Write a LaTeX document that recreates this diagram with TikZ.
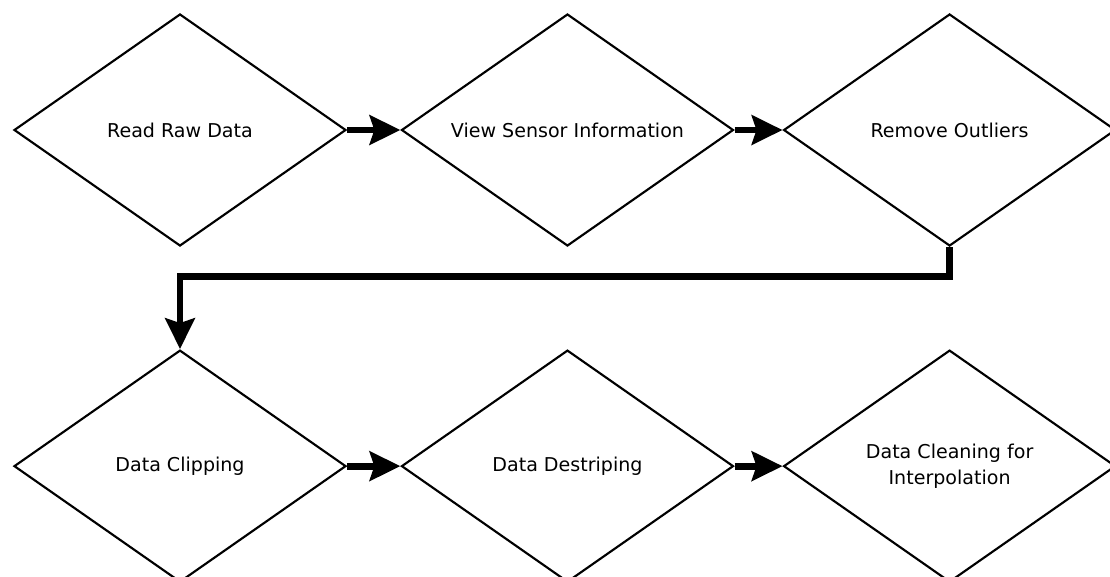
\documentclass[tikz,border=0pt]{standalone}
\usepackage{fontspec}
\setmainfont{DejaVu Sans}
\usepackage{tikz}
\usetikzlibrary{shapes.geometric,arrows.meta,positioning}

\begin{document}
\begin{tikzpicture}[
  every node/.style={font=\fontsize{14.3}{19.5}\selectfont},
  stage/.style={diamond,aspect=1.43,draw,line width=1.6pt,inner sep=0pt,align=center,
                minimum width=249pt,minimum height=174pt},
  flow/.style={line width=5.2pt,-{Stealth[length=23pt,width=22pt,inset=3.5pt]}}
]
\useasboundingbox (0,0) rectangle (832.5pt,-432pt);
% top row
\node[stage] (raw) at (135pt,-97.5pt) {Read Raw Data};
\node[stage, right=40pt of raw] (sensor) {View Sensor Information};
\node[stage, right=36pt of sensor] (outl) {Remove Outliers};
% bottom row
\node[stage, below=76.5pt of raw] (clip) {Data Clipping};
\node[stage, right=40pt of clip] (destr) {Data Destriping};
\node[stage, right=36pt of destr] (clean) {Data Cleaning for\\Interpolation};
\draw[flow] (raw) -- (sensor);
\draw[flow] (sensor) -- (outl);
\draw[flow] (outl.south) -- ++(0,-22pt) -| (clip.north);
\draw[flow] (clip) -- (destr);
\draw[flow] (destr) -- (clean);
\end{tikzpicture}
\end{document}
